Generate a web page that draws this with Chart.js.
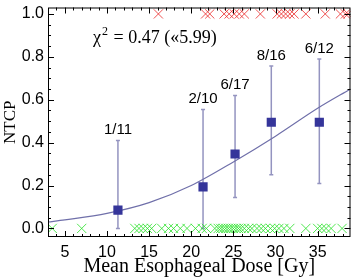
<!DOCTYPE html>
<html>
<head>
<meta charset="utf-8">
<script src="https://cdn.jsdelivr.net/npm/chart.js@4.4.1/dist/chart.umd.min.js"></script>
<style>
  html, body { margin: 0; padding: 0; background: #fff; }
  #wrap { width: 358px; height: 279px; }
</style>
</head>
<body>
<div id="wrap"><canvas id="ntcp"></canvas></div>
<script>
// binned observed NTCP with error bars
const binDose = [11.3, 21.4, 25.2, 29.5, 35.2];
const binNtcp = [0.085, 0.194, 0.347, 0.495, 0.495];
const binLow = [0.0, 0.0, 0.144, 0.25, 0.21];
const binHigh = [0.41, 0.555, 0.62, 0.757, 0.79];
const binLabels = ["1/11", "2/10", "6/17", "8/16", "6/12"];

// fitted curve
const fitDose = [3, 5, 10, 15, 20, 25, 30, 35, 38.9];
const fitNtcp = [0.03, 0.04, 0.07, 0.12, 0.20, 0.31, 0.43, 0.56, 0.65];

// individual patients: events at 1, no events at 0
const eventDose = [16.1, 21.7, 22.2, 23.9, 24.5, 25.1, 25.7, 26.3, 28.2, 30.2, 30.7,
  31.2, 31.7, 32.2, 33.6, 35.9, 37.7, 38.3, 38.6];
const noEventDose = [3.5, 7.0, 13.3, 13.8, 14.3, 14.8, 15.3, 16.5, 17.3, 17.9,
  18.7, 19.5, 20.5, 21.3, 21.8, 22.8, 23.2, 23.5,
  23.8, 24.1, 24.4, 24.7, 25.0, 25.3, 25.6, 25.9, 26.3, 26.8, 27.2,
  27.8, 28.3, 28.8, 29.4, 29.9, 30.4, 31.0, 31.7,
  33.6, 35.0, 35.5, 36.0, 36.6, 37.9];

const xTicks = [5, 10, 15, 20, 25, 30, 35];
const yTicks = [0, 0.2, 0.4, 0.6, 0.8, 1.0];

const sans = "'Liberation Sans', Arial, sans-serif";
const serif = "'Liberation Serif', 'Times New Roman', serif";

// error bars, count labels and chi2 note
const errorBars = {
  id: "errorBars",
  beforeDatasetsDraw(chart) {
    const { ctx, scales: { x, y } } = chart;
    ctx.save();
    ctx.strokeStyle = "#9494c0";
    ctx.lineWidth = 1.5;
    binDose.forEach((d, i) => {
      const px = x.getPixelForValue(d);
      const lo = y.getPixelForValue(binLow[i]);
      const hi = y.getPixelForValue(binHigh[i]);
      ctx.beginPath();
      ctx.moveTo(px, lo); ctx.lineTo(px, hi);
      ctx.moveTo(px - 2, lo); ctx.lineTo(px + 2, lo);
      ctx.moveTo(px - 2, hi); ctx.lineTo(px + 2, hi);
      ctx.stroke();
    });
    ctx.fillStyle = "#000";
    ctx.font = "15px " + sans;
    ctx.textAlign = "center";
    ctx.textBaseline = "bottom";
    binDose.forEach((d, i) => {
      ctx.fillText(binLabels[i], x.getPixelForValue(d), y.getPixelForValue(binHigh[i]) - 3);
    });
    // chi2 note: chi, small raised 2, rest
    ctx.textAlign = "left";
    ctx.textBaseline = "alphabetic";
    ctx.font = "18px " + serif;
    ctx.fillText("\u03c7", 93, 43);
    let cx = 93 + ctx.measureText("\u03c7").width + 1;
    ctx.font = "12px " + serif;
    ctx.fillText("2", cx, 35);
    cx += ctx.measureText("2").width + 1;
    ctx.font = "18px " + serif;
    ctx.fillText(" = 0.47 (\u00ab5.99)", cx, 43);
    ctx.restore();
  },
};

// box frame with inward major/minor ticks on all four sides
const frameTicks = {
  id: "frameTicks",
  afterDraw(chart) {
    const { ctx, chartArea: a, scales: { x, y } } = chart;
    ctx.save();
    ctx.strokeStyle = "#000";
    ctx.lineWidth = 1;
    ctx.strokeRect(a.left + 0.5, a.top + 0.5, a.right - a.left - 1, a.bottom - a.top - 1);
    ctx.beginPath();
    for (let v = 4; v <= 38; v++) {
      const px = Math.round(x.getPixelForValue(v)) + 0.5;
      const len = v % 5 === 0 ? 6 : 3;
      ctx.moveTo(px, a.bottom); ctx.lineTo(px, a.bottom - len);
      ctx.moveTo(px, a.top); ctx.lineTo(px, a.top + len);
    }
    for (let k = 0; k <= 20; k++) {
      const v = k * 0.05;
      const py = Math.round(y.getPixelForValue(v)) + 0.5;
      const len = k % 4 === 0 ? 6 : 3;
      ctx.moveTo(a.left, py); ctx.lineTo(a.left + len, py);
      ctx.moveTo(a.right, py); ctx.lineTo(a.right - len, py);
    }
    ctx.stroke();
    ctx.restore();
  },
};

new Chart(document.getElementById("ntcp"), {
  type: "scatter",
  data: {
    datasets: [
      {
        label: "fit",
        data: fitDose.map((d, i) => ({ x: d, y: fitNtcp[i] })),
        showLine: true,
        borderColor: "#7070aa",
        borderWidth: 1.2,
        pointRadius: 0,
        cubicInterpolationMode: "monotone",
        order: 3,
      },
      {
        label: "observed",
        data: binDose.map((d, i) => ({ x: d, y: binNtcp[i] })),
        pointStyle: "rect",
        pointRadius: 6.5,
        backgroundColor: "#35359a",
        borderColor: "#35359a",
        borderWidth: 0,
        order: 1,
      },
      {
        label: "event",
        data: eventDose.map((d) => ({ x: d, y: 1.0 })),
        pointStyle: "crossRot",
        pointRadius: 6.5,
        borderColor: "rgba(235,40,40,0.8)",
        borderWidth: 1,
        order: 2,
      },
      {
        label: "no event",
        data: noEventDose.map((d) => ({ x: d, y: 0.0 })),
        pointStyle: "crossRot",
        pointRadius: 6.5,
        borderColor: "rgba(40,225,40,0.8)",
        borderWidth: 1,
        order: 2,
      },
    ],
  },
  plugins: [errorBars, frameTicks],
  options: {
    responsive: true,
    maintainAspectRatio: false,
    animation: false,
    layout: { padding: { top: 3, right: 3, left: 0, bottom: 0 } },
    plugins: { legend: { display: false }, tooltip: { enabled: false } },
    scales: {
      x: {
        type: "linear",
        min: 3,
        max: 38.9,
        grid: { display: false, drawTicks: false },
        border: { display: false },
        afterBuildTicks: (s) => { s.ticks = xTicks.map((v) => ({ value: v })); },
        afterFit: (s) => { s.height = 42; s.paddingLeft = 0; s.paddingRight = 0; },
        ticks: {
          padding: 6,
          color: "#000",
          font: { family: sans, size: 16 },
          maxRotation: 0,
        },
        title: {
          display: true,
          text: "Mean Esophageal Dose [Gy]",
          color: "#000",
          font: { family: serif, size: 20 },
          padding: { top: 0, bottom: 0 },
        },
      },
      y: {
        min: -0.04,
        max: 1.03,
        grid: { display: false, drawTicks: false },
        border: { display: false },
        afterBuildTicks: (s) => { s.ticks = yTicks.map((v) => ({ value: v })); },
        afterFit: (s) => { s.width = 48; s.paddingTop = 0; s.paddingBottom = 0; },
        ticks: {
          padding: 4,
          color: "#000",
          font: { family: sans, size: 16 },
          callback: (v) => Number(v).toFixed(1),
        },
        title: {
          display: true,
          text: "NTCP",
          color: "#000",
          font: { family: serif, size: 17 },
          padding: { top: 0, bottom: 0 },
        },
      },
    },
  },
});
</script>
</body>
</html>
